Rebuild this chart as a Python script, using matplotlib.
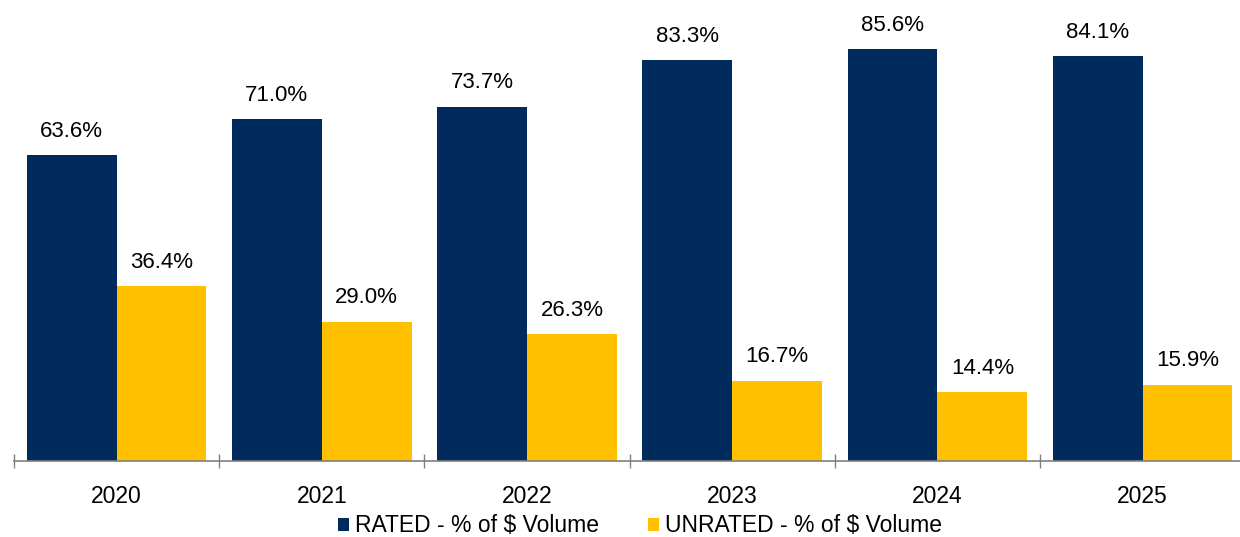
import matplotlib.pyplot as plt
import numpy as np

years = ['2020', '2021', '2022', '2023', '2024', '2025']
rated = [63.6, 71.0, 73.7, 83.3, 85.6, 84.1]
unrated = [36.4, 29.0, 26.3, 16.7, 14.4, 15.9]

plt.rcParams['font.family'] = ['Liberation Sans', 'DejaVu Sans']

fig = plt.figure(figsize=(12.4, 5.37), dpi=100)
# axes spans groups of ~205px starting at x=14, baseline at y=461
left = 14 / 1240
width = 205.2 * 6 / 1240
bottom = (537 - 461) / 537
ymax = 95
height = 4.81 * ymax / 537
ax = fig.add_axes([left, bottom, width, height])

x = np.arange(len(years))
w = 0.438
navy = '#002B5C'
gold = '#FFC000'
b1 = ax.bar(x - w / 2, rated, w, color=navy, label='RATED - % of $ Volume')
b2 = ax.bar(x + w / 2, unrated, w, color=gold, label='UNRATED - % of $ Volume')

for bars, vals in [(b1, rated), (b2, unrated)]:
    for b, v in zip(bars, vals):
        ax.annotate(f'{v:.1f}%', (b.get_x() + b.get_width() / 2, v),
                    xytext=(0, 9.5), textcoords='offset points',
                    ha='center', va='bottom', fontsize=16)

ax.set_xlim(-0.5, 5.5)
ax.set_ylim(0, ymax)
ax.set_xticks(x)
ax.set_xticklabels(years, fontsize=16.5)
ax.set_xticks(np.arange(-0.5, 6.0, 1.0), minor=True)
ax.tick_params(axis='x', which='major', length=0, pad=17)
ax.tick_params(axis='x', which='minor', direction='inout', length=9.5,
               color='#808080', width=1)
ax.set_yticks([])
for s in ['top', 'right', 'left']:
    ax.spines[s].set_visible(False)
ax.spines['bottom'].set_color('#808080')
ax.spines['bottom'].set_linewidth(1.2)

fig.legend(handles=[b1, b2], loc='center', bbox_to_anchor=(640 / 1240, 1 - 526 / 537),
           ncol=2, frameon=False, fontsize=16.5, handlelength=0.52, handleheight=0.52,
           handletextpad=0.26, columnspacing=2.1)

fig.savefig('out.png', dpi=100)
